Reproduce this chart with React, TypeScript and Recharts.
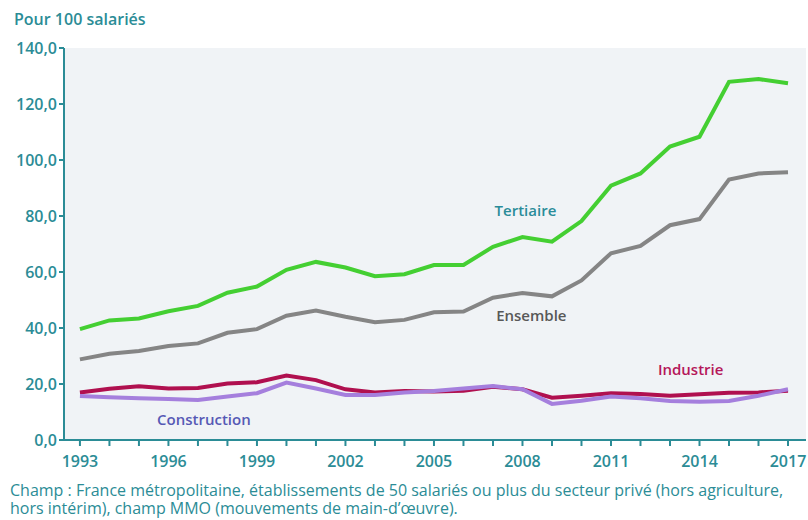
import React from "react";
import {
  LineChart,
  Line,
  XAxis,
  YAxis,
  CartesianGrid,
  ReferenceDot,
} from "recharts";

const years = [
  1993, 1994, 1995, 1996, 1997, 1998, 1999, 2000, 2001, 2002, 2003, 2004,
  2005, 2006, 2007, 2008, 2009, 2010, 2011, 2012, 2013, 2014, 2015, 2016,
  2017,
];
const tertiaire = [
  39.6, 42.7, 43.4, 46.0, 47.9, 52.6, 54.8, 60.8, 63.6, 61.6, 58.5, 59.2,
  62.5, 62.5, 69.0, 72.5, 70.8, 78.2, 90.8, 95.2, 104.8, 108.3, 127.9, 128.9,
  127.4,
];
const ensemble = [
  28.8, 30.8, 31.8, 33.6, 34.5, 38.3, 39.6, 44.4, 46.2, 44.0, 42.1, 42.9,
  45.6, 45.9, 50.8, 52.5, 51.3, 57.0, 66.7, 69.3, 76.7, 78.9, 93.0, 95.2,
  95.6,
];
const industrie = [
  17.0, 18.3, 19.2, 18.4, 18.6, 20.2, 20.6, 23.0, 21.4, 18.1, 17.0, 17.5,
  17.3, 17.6, 19.0, 18.1, 15.1, 15.8, 16.7, 16.4, 15.8, 16.3, 16.9, 17.0,
  17.6,
];
const construction = [
  15.7, 15.3, 14.9, 14.6, 14.3, 15.5, 16.7, 20.5, 18.4, 16.1, 16.1, 17.0,
  17.5, 18.4, 19.3, 18.1, 12.9, 14.0, 15.5, 14.9, 13.9, 13.7, 13.9, 15.8,
  18.1,
];
const yTicks = [0, 20, 40, 60, 80, 100, 120, 140];
const footerLines = [
  "Champ : France métropolitaine, établissements de 50 salariés ou plus du secteur privé (hors agriculture,",
  "hors intérim), champ MMO (mouvements de main-d’œuvre).",
];

const TEAL = "#2b8c96";
const FONT = "'Open Sans', sans-serif";

const data = years.map((year, i) => ({
  year,
  tertiaire: tertiaire[i],
  ensemble: ensemble[i],
  industrie: industrie[i],
  construction: construction[i],
}));

// series name labels placed in data coordinates
const seriesLabels = [
  { text: "Tertiaire", x: 2008.1, y: 81.8, color: "#2a8c99" },
  { text: "Ensemble", x: 2008.3, y: 44.3, color: "#585858" },
  { text: "Industrie", x: 2013.7, y: 25.0, color: "#b5175a" },
  { text: "Construction", x: 1997.2, y: 7.1, color: "#5659b5" },
];

export default function App() {
  const tick = { fill: TEAL, fontSize: 16, fontWeight: 600, fontFamily: FONT };

  return (
    <div
      style={{
        position: "absolute",
        left: 0,
        top: 0,
        width: 808,
        height: 520,
        overflow: "hidden",
        background: "#fff",
        fontFamily: FONT,
      }}
    >
      <div
        style={{
          position: "absolute",
          left: 14,
          top: 8,
          fontSize: 16,
          fontWeight: 600,
          color: TEAL,
        }}
      >
        Pour 100 salariés
      </div>

      <LineChart
        width={808}
        height={478}
        data={data}
        margin={{ top: 48, right: 2, left: 0, bottom: 0 }}
        style={{ position: "absolute", left: 0, top: 0 }}
      >
        <CartesianGrid horizontal={false} vertical={false} fill="#f0f3f6" />
        <XAxis
          dataKey="year"
          type="number"
          domain={[1992.46, 2017.61]}
          ticks={years}
          interval={0}
          height={38}
          stroke={TEAL}
          strokeWidth={2}
          tickSize={6}
          tickMargin={10}
          tick={tick}
          tickFormatter={(v) => ((v - 1993) % 3 === 0 ? String(v) : "")}
        />
        <YAxis
          width={64}
          domain={[0, 140]}
          ticks={yTicks}
          interval={0}
          stroke={TEAL}
          strokeWidth={2}
          tickSize={5}
          tickMargin={2}
          tick={tick}
          tickFormatter={(v) => v.toFixed(1).replace(".", ",")}
        />
        <Line
          dataKey="industrie"
          stroke="#b0104f"
          strokeWidth={4}
          dot={false}
          isAnimationActive={false}
        />
        <Line
          dataKey="construction"
          stroke="#a57fdd"
          strokeWidth={4}
          dot={false}
          isAnimationActive={false}
        />
        <Line
          dataKey="ensemble"
          stroke="#858585"
          strokeWidth={4}
          dot={false}
          isAnimationActive={false}
        />
        <Line
          dataKey="tertiaire"
          stroke="#44cf32"
          strokeWidth={4}
          dot={false}
          isAnimationActive={false}
        />
        {seriesLabels.map((l) => (
          <ReferenceDot
            key={l.text}
            x={l.x}
            y={l.y}
            r={1}
            fillOpacity={0}
            stroke="none"
            label={{
              value: l.text,
              position: "center",
              fill: l.color,
              fontSize: 15,
              fontWeight: 600,
              fontFamily: FONT,
            }}
          />
        ))}
      </LineChart>

      {footerLines.map((line, i) => (
        <div
          key={i}
          style={{
            position: "absolute",
            left: 10,
            top: 481 + i * 18,
            fontSize: 16,
            lineHeight: "18px",
            color: TEAL,
            whiteSpace: "nowrap",
          }}
        >
          {line}
        </div>
      ))}
    </div>
  );
}
